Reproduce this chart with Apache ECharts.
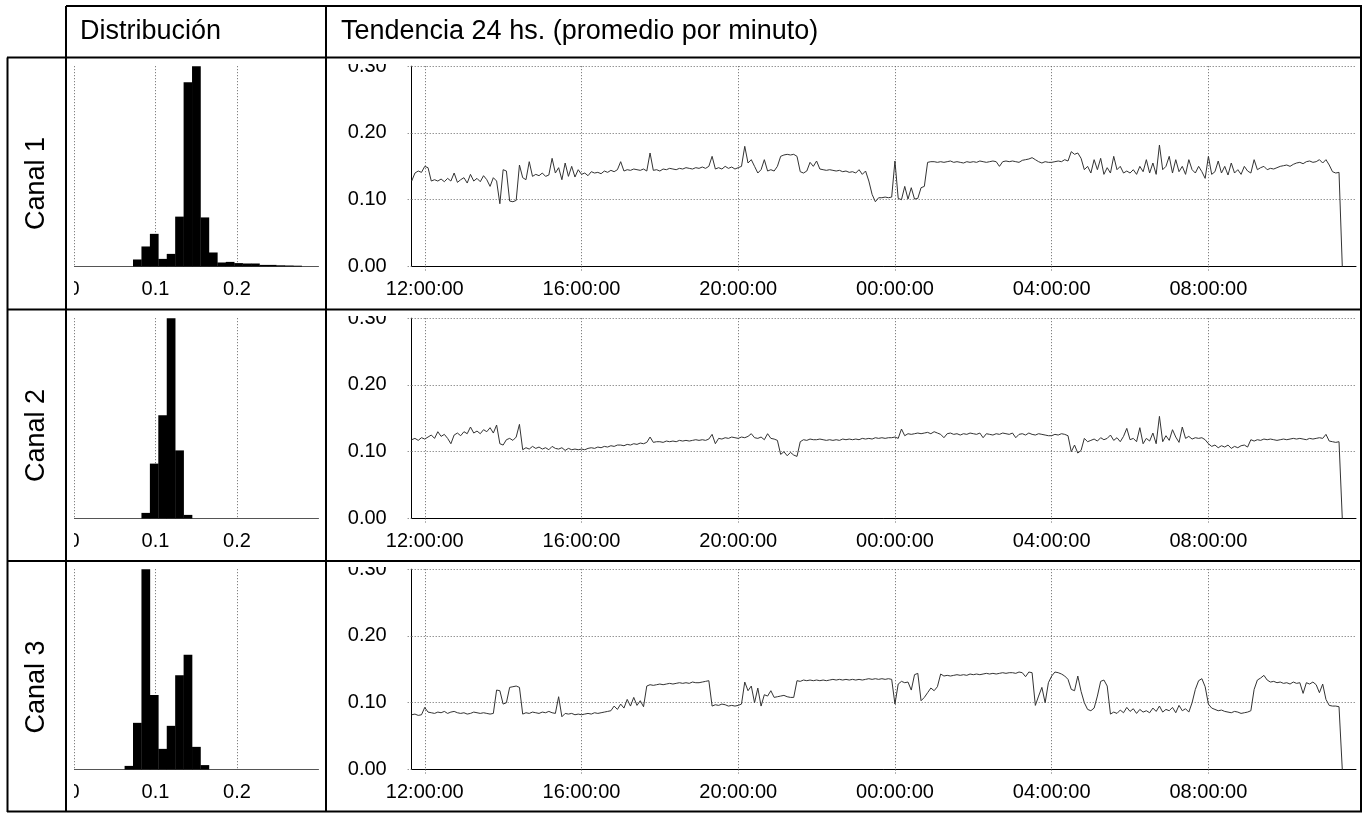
<!DOCTYPE html>
<html><head><meta charset="utf-8">
<script src="https://cdn.jsdelivr.net/npm/echarts@6/dist/echarts.min.js"></script>
<style>
html,body{margin:0;padding:0;background:#fff;width:1367px;height:813px;overflow:hidden;}
#bg{position:absolute;left:0;top:0;width:1367px;height:813px;}
.c{position:absolute;overflow:hidden;}
</style></head><body>
<div id="bg"></div>
<script>
// ---------------- DATA ----------------
const HEADER_DIST = 'Distribución';
const HEADER_TREND = 'Tendencia 24 hs. (promedio por minuto)';
const CHANNELS = ['Canal 1', 'Canal 2', 'Canal 3'];

// time axis (minutes since 00:00 of day 1)
const TIME_MIN = 700;      // 11:40
const TIME_MAX = 2146;     // 11:46 next day
const TIME_TICKS = [720, 960, 1200, 1440, 1680, 1920]; // 12:00 ... 08:00
const SAMPLE_START = 700;  // first sample 11:40
const SAMPLE_STEP = 5;     // minutes between samples

const Y_TICKS_MAX = 0.3;
const HIST_X_MAX = 0.3;
const HIST_BINS = 29;
const HIST_TICKS = [0, 0.1, 0.2];

// relative bin heights (29 bins over 0..0.3)
const hist1 = [0,0,0,0,0,0,0,0.035,0.10,0.163,0.038,0.063,0.249,0.92,1.0,0.245,0.07,0.02,0.023,0.017,0.015,0.015,0.008,0.008,0.006,0.005,0.004,0,0];
const hist2 = [0,0,0,0,0,0,0,0,0.028,0.274,0.516,1.0,0.34,0.018,0,0,0,0,0,0,0,0,0,0,0,0,0,0,0];
const hist3 = [0,0,0,0,0,0,0.018,0.233,1.0,0.372,0.103,0.218,0.47,0.573,0.113,0.022,0,0,0,0,0,0,0,0,0,0,0,0,0];

// 5-minute samples from 11:40 to 11:20 next day, then the end drop
const canal1 = [
0.128,0.140,0.143,0.141,
0.150,0.148,0.128,0.130,0.128,0.131,0.127,0.132,0.128,0.140,0.126,0.130,
0.133,0.125,0.138,0.128,0.132,0.127,0.136,0.130,0.120,0.133,0.128,0.094,
0.145,0.143,0.098,0.097,0.099,0.152,0.133,0.130,0.157,0.135,0.138,0.136,
0.140,0.135,0.137,0.162,0.140,0.148,0.130,0.155,0.135,0.150,0.134,0.145,
0.138,0.140,0.136,0.142,0.140,0.141,0.139,0.143,0.141,0.144,0.142,0.145,
0.157,0.143,0.145,0.144,0.146,0.145,0.144,0.146,0.143,0.170,0.144,0.145,
0.143,0.146,0.145,0.147,0.146,0.145,0.147,0.146,0.148,0.147,0.146,0.148,
0.147,0.149,0.147,0.150,0.165,0.146,0.148,0.146,0.150,0.147,0.149,0.146,
0.148,0.150,0.180,0.155,0.160,0.150,0.140,0.145,0.160,0.143,0.145,0.143,
0.150,0.165,0.167,0.168,0.167,0.168,0.165,0.142,0.140,0.143,0.156,0.150,
0.158,0.146,0.145,0.144,0.145,0.144,0.143,0.144,0.142,0.143,0.141,0.142,
0.140,0.145,0.138,0.143,0.128,0.108,0.097,0.103,0.103,0.104,0.103,0.104,
0.158,0.102,0.100,0.120,0.101,0.118,0.101,0.102,0.118,0.120,0.156,0.157,
0.157,0.156,0.157,0.156,0.157,0.158,0.156,0.157,0.156,0.155,0.157,0.156,
0.157,0.156,0.158,0.157,0.156,0.157,0.158,0.157,0.150,0.157,0.158,0.157,
0.158,0.157,0.156,0.159,0.160,0.161,0.163,0.160,0.157,0.155,0.157,0.156,
0.156,0.157,0.158,0.157,0.160,0.158,0.172,0.168,0.170,0.162,0.145,0.150,
0.140,0.160,0.145,0.162,0.138,0.148,0.140,0.165,0.145,0.150,0.140,0.143,
0.140,0.145,0.138,0.150,0.142,0.160,0.140,0.155,0.138,0.182,0.145,0.150,
0.165,0.140,0.160,0.142,0.150,0.138,0.160,0.145,0.140,0.150,0.142,0.132,
0.165,0.138,0.142,0.158,0.140,0.150,0.137,0.155,0.140,0.145,0.138,0.150,
0.143,0.140,0.160,0.145,0.148,0.150,0.145,0.147,0.146,0.148,0.150,0.151,
0.152,0.150,0.153,0.155,0.156,0.154,0.157,0.158,0.156,0.157,0.160,0.155,
0.160,0.152,0.142,0.140,0.141,0
];
const canal2 = [
0.118,0.120,0.117,0.121,
0.119,0.122,0.125,0.120,0.130,0.123,0.126,0.120,0.112,0.125,0.128,0.124,
0.130,0.127,0.137,0.128,0.131,0.127,0.133,0.130,0.136,0.128,0.140,0.112,
0.110,0.118,0.120,0.117,0.122,0.141,0.103,0.106,0.104,0.108,0.105,0.107,
0.104,0.106,0.103,0.108,0.105,0.104,0.106,0.102,0.105,0.103,0.104,0.103,
0.104,0.103,0.105,0.106,0.105,0.107,0.106,0.108,0.107,0.109,0.108,0.110,
0.110,0.109,0.111,0.110,0.112,0.111,0.113,0.112,0.114,0.122,0.114,0.115,
0.115,0.114,0.116,0.115,0.116,0.115,0.117,0.116,0.117,0.116,0.117,0.118,
0.117,0.118,0.117,0.119,0.126,0.112,0.120,0.119,0.121,0.120,0.122,0.121,
0.120,0.122,0.121,0.123,0.127,0.121,0.120,0.122,0.118,0.127,0.120,0.119,
0.117,0.096,0.100,0.094,0.099,0.095,0.093,0.115,0.118,0.117,0.119,0.118,
0.118,0.119,0.118,0.117,0.118,0.117,0.118,0.117,0.119,0.118,0.119,0.118,
0.119,0.118,0.120,0.119,0.120,0.119,0.121,0.120,0.121,0.120,0.121,0.121,
0.122,0.120,0.134,0.124,0.127,0.126,0.127,0.128,0.127,0.128,0.129,0.127,
0.130,0.128,0.126,0.121,0.127,0.128,0.126,0.127,0.125,0.127,0.126,0.128,
0.127,0.126,0.128,0.121,0.127,0.126,0.125,0.127,0.126,0.128,0.127,0.126,
0.128,0.121,0.126,0.127,0.125,0.128,0.126,0.125,0.127,0.126,0.125,0.124,
0.124,0.126,0.125,0.127,0.126,0.124,0.100,0.110,0.098,0.102,0.120,0.115,
0.117,0.119,0.116,0.121,0.118,0.120,0.125,0.117,0.121,0.115,0.123,0.135,
0.118,0.120,0.115,0.136,0.112,0.120,0.116,0.128,0.112,0.153,0.115,0.124,
0.117,0.133,0.122,0.114,0.137,0.120,0.123,0.119,0.121,0.120,0.121,0.118,
0.112,0.108,0.110,0.106,0.109,0.107,0.110,0.105,0.108,0.106,0.109,0.110,
0.107,0.118,0.116,0.118,0.117,0.119,0.118,0.119,0.118,0.117,0.118,0.119,
0.118,0.119,0.120,0.119,0.120,0.119,0.118,0.120,0.119,0.120,0.121,0.120,
0.126,0.116,0.115,0.114,0.115,0
];
const canal3 = [
0.082,0.083,0.081,0.082,
0.093,0.086,0.085,0.084,0.086,0.085,0.087,0.084,0.086,0.087,0.085,0.084,
0.085,0.083,0.084,0.086,0.085,0.084,0.085,0.084,0.083,0.084,0.119,0.118,
0.098,0.100,0.123,0.124,0.125,0.123,0.083,0.085,0.084,0.086,0.085,0.084,
0.086,0.085,0.087,0.085,0.084,0.109,0.079,0.084,0.083,0.084,0.082,0.083,
0.082,0.083,0.084,0.083,0.085,0.084,0.085,0.086,0.087,0.088,0.095,0.090,
0.098,0.092,0.105,0.095,0.108,0.096,0.103,0.094,0.125,0.127,0.126,0.127,
0.128,0.127,0.128,0.129,0.128,0.129,0.130,0.129,0.130,0.129,0.131,0.130,
0.130,0.131,0.132,0.133,0.095,0.097,0.096,0.098,0.097,0.095,0.096,0.095,
0.096,0.098,0.131,0.118,0.125,0.100,0.122,0.095,0.112,0.110,0.118,0.108,
0.109,0.110,0.111,0.109,0.108,0.108,0.133,0.132,0.134,0.133,0.134,0.133,
0.134,0.133,0.134,0.133,0.134,0.135,0.134,0.135,0.134,0.135,0.134,0.135,
0.134,0.135,0.134,0.135,0.136,0.135,0.136,0.135,0.136,0.135,0.136,0.135,
0.098,0.128,0.132,0.130,0.131,0.119,0.142,0.144,0.103,0.108,0.115,0.122,
0.118,0.124,0.143,0.140,0.141,0.140,0.141,0.142,0.141,0.142,0.141,0.143,
0.142,0.143,0.142,0.143,0.144,0.143,0.144,0.143,0.144,0.145,0.144,0.145,
0.145,0.144,0.146,0.145,0.139,0.146,0.145,0.096,0.110,0.123,0.100,0.130,
0.140,0.146,0.145,0.143,0.140,0.135,0.120,0.118,0.140,0.117,0.100,0.090,
0.088,0.092,0.110,0.132,0.134,0.125,0.083,0.086,0.084,0.089,0.085,0.093,
0.087,0.091,0.084,0.090,0.086,0.088,0.085,0.092,0.087,0.095,0.086,0.090,
0.088,0.093,0.085,0.096,0.088,0.091,0.086,0.100,0.120,0.133,0.136,0.124,
0.098,0.092,0.090,0.088,0.089,0.087,0.086,0.085,0.087,0.086,0.084,0.085,
0.086,0.088,0.120,0.134,0.137,0.141,0.134,0.131,0.132,0.130,0.131,0.129,
0.130,0.128,0.131,0.129,0.130,0.114,0.130,0.128,0.131,0.127,0.115,0.128,
0.105,0.096,0.095,0.095,0.094,0
];
const TRENDS = [canal1, canal2, canal3];
const HISTS = [hist1, hist2, hist3];

// ---------------- LAYOUT / STYLE ----------------
const FONT = '"Liberation Sans", Arial, sans-serif';
const FS = 20;
const FS_HEAD = 27;
const ROW_TOP = [57.5, 309.5, 561];
const PLOT_TOP_OFF = 8.2, PLOT_BOT_OFF = 208.5;
const CLIP_OFF = 6;
const GRID_COLOR = '#666';
const DOT = [1, 2];

// background: table lines and header texts
const bg = echarts.init(document.getElementById('bg'), null, {renderer: 'canvas'});
const L = (x1, y1, x2, y2) => ({type: 'line', shape: {x1, y1, x2, y2}, style: {stroke: '#000', lineWidth: 2}, silent: true});
const T = (text, x, y) => ({type: 'text', x, y, silent: true,
  style: {text, font: FS_HEAD + 'px ' + FONT, fill: '#000', textAlign: 'left', textVerticalAlign: 'middle', align: 'left', verticalAlign: 'middle'}});
const els = [
  L(66, 6, 1362, 6), L(7, 57.5, 1362, 57.5), L(7, 309.5, 1362, 309.5), L(7, 561, 1362, 561), L(7, 811.5, 1362, 811.5),
  L(7.5, 57.5, 7.5, 812), L(66, 6, 66, 812), L(326, 6, 326, 812), L(1361, 6, 1361, 812),
  T(HEADER_DIST, 80, 32), T(HEADER_TREND, 341, 32)
];
CHANNELS.forEach((name, i) => {
  const cy = ROW_TOP[i] + 126;
  els.push({type: 'text', x: 37, y: cy, rotation: Math.PI / 2, silent: true,
    style: {text: name, font: FS_HEAD + 'px ' + FONT, fill: '#000', textAlign: 'center', textVerticalAlign: 'middle', align: 'center', verticalAlign: 'middle'}});
});
bg.setOption({animation: false, graphic: {elements: els}});

function fmtTime(v) {
  const m = ((v % 1440) + 1440) % 1440;
  const h = Math.floor(m / 60), mm = m % 60;
  return String(h).padStart(2, '0') + ':' + String(mm).padStart(2, '0') + ':00';
}

function mkDiv(left, top, w, h) {
  const d = document.createElement('div');
  d.className = 'c';
  d.style.left = left + 'px'; d.style.top = top + 'px';
  d.style.width = w + 'px'; d.style.height = h + 'px';
  document.body.appendChild(d);
  return d;
}

const labelStyle = {color: '#000', fontSize: FS, fontFamily: FONT};

TRENDS.forEach((vals, i) => {
  const clipTop = ROW_TOP[i] + CLIP_OFF;
  const plotTop = ROW_TOP[i] + PLOT_TOP_OFF;
  const plotBot = ROW_TOP[i] + PLOT_BOT_OFF;
  const data = vals.map((v, k) => [SAMPLE_START + k * SAMPLE_STEP, v]);

  // trend chart
  const dL = 330, dW = 1030, dH = 244;
  const tc = echarts.init(mkDiv(dL, clipTop, dW, dH));
  tc.setOption({
    animation: false,
    grid: {left: 411.7 - dL, top: plotTop - clipTop, width: 1356 - 411.7, height: plotBot - plotTop,
      containLabel: false, outerBoundsMode: 'none'},
    xAxis: {
      type: 'value', min: TIME_MIN, max: TIME_MAX,
      axisLine: {show: true, onZero: false, lineStyle: {color: '#000', width: 1}},
      axisTick: {show: true, length: 6, customValues: TIME_TICKS, lineStyle: {color: GRID_COLOR, type: DOT}},
      axisLabel: Object.assign({customValues: TIME_TICKS, formatter: fmtTime, margin: 13, hideOverlap: false}, labelStyle),
      splitLine: {show: true, lineStyle: {color: GRID_COLOR, type: DOT, width: 1}}
    },
    yAxis: {
      type: 'value', min: 0, max: Y_TICKS_MAX, interval: 0.1,
      axisLine: {show: true, lineStyle: {color: '#000', width: 1}},
      axisTick: {show: true, length: 6, lineStyle: {color: GRID_COLOR, type: DOT}},
      axisLabel: Object.assign({formatter: v => v.toFixed(2), margin: 25}, labelStyle),
      splitLine: {show: true, lineStyle: {color: GRID_COLOR, type: DOT, width: 1}}
    },
    series: [{type: 'line', data, showSymbol: false, symbol: 'none', silent: true,
      lineStyle: {color: '#333', width: 1}}]
  });

  // histogram
  const hL = 74, hW = 250;
  const hc = echarts.init(mkDiv(hL, clipTop, hW, dH));
  const hv = HISTS[i];
  const bw = HIST_X_MAX / HIST_BINS;
  const hdata = hv.map((h, k) => [k * bw, (k + 1) * bw, h]);
  hc.setOption({
    animation: false,
    grid: {left: 0, top: plotTop - clipTop, width: 318.5 - hL, height: plotBot - plotTop,
      containLabel: false, outerBoundsMode: 'none'},
    xAxis: {
      type: 'value', min: 0, max: HIST_X_MAX,
      axisLine: {show: true, onZero: false, lineStyle: {color: '#555', width: 1}},
      axisTick: {show: false, customValues: HIST_TICKS},
      axisLabel: Object.assign({customValues: HIST_TICKS, formatter: v => (v === 0 ? '0' : String(+v.toFixed(1))), margin: 13}, labelStyle),
      splitLine: {show: true, lineStyle: {color: GRID_COLOR, type: DOT, width: 1}}
    },
    yAxis: {type: 'value', min: 0, max: 1, show: false, splitLine: {show: false}},
    series: [{
      type: 'custom', silent: true, data: hdata,
      renderItem: (params, api) => {
        const h = api.value(2);
        if (!h) return null;
        const p0 = api.coord([api.value(0), h]);
        const p1 = api.coord([api.value(1), 0]);
        return {type: 'rect', shape: {x: p0[0], y: p0[1], width: p1[0] - p0[0] + 0.3, height: p1[1] - p0[1]},
          style: {fill: '#000'}};
      }
    }]
  });
});
</script>
</body></html>
